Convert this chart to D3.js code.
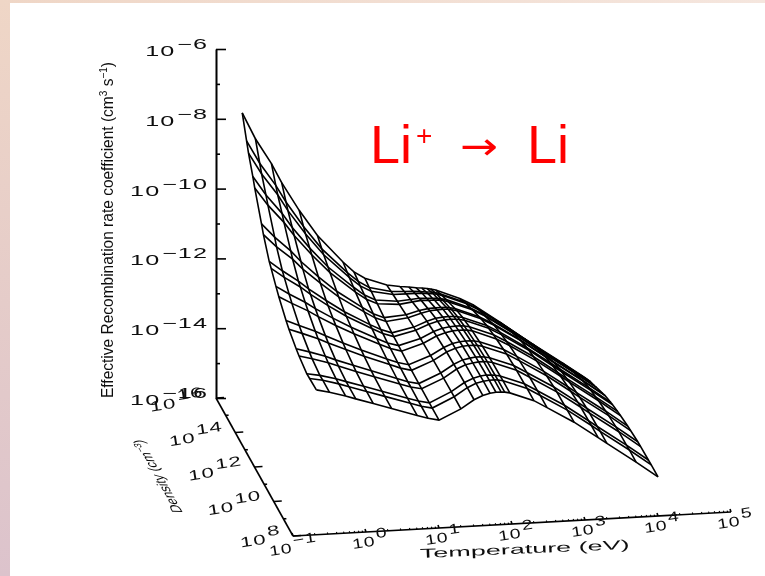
<!DOCTYPE html>
<html>
<head>
<meta charset="utf-8">
<script src="https://cdn.jsdelivr.net/npm/d3@7"></script>
<style>
  html, body { margin: 0; padding: 0; background: #fff; }
  svg { display: block; }
  text { font-family: "Liberation Sans", Arial, sans-serif; fill: #111; }
</style>
</head>
<body>
<svg id="svg" width="765" height="576"></svg>
<script>
// log10 temperature (eV) of each grid column
const logTemps = [-0.68, -0.5, -0.28, -0.14, 0.1, 0.35, 0.7, 0.85, 1, 1.3, 1.48, 1.6, 1.7, 1.78, 1.85, 1.9, 1.97, 2.3, 2.48, 2.85, 3.18, 3.3, 3.7, 4];
// log10 density (cm-3) of each grid row
const logDens = [8, 8.7, 9, 9.8, 10.1, 10.85, 11.15, 11.9, 12.2, 12.7, 12.9, 13.5, 13.7, 14.4, 14.6, 15.05, 15.25, 15.7];
// log10 rate coefficient, one row per density
const logRate = [
    [-11.85,-11.94,-12.07,-12.17,-12.33,-12.50,-12.74,-12.84,-12.91,-12.62,-12.38,-12.27,-12.22,-12.20,-12.20,-12.21,-12.24,-12.50,-12.72,-13.18,-13.66,-13.84,-14.42,-14.88],
    [-11.87,-11.94,-12.07,-12.17,-12.33,-12.50,-12.74,-12.84,-12.91,-12.62,-12.38,-12.27,-12.22,-12.20,-12.20,-12.21,-12.24,-12.50,-12.72,-13.18,-13.66,-13.84,-14.42,-14.88],
    [-11.88,-11.95,-12.07,-12.17,-12.33,-12.50,-12.74,-12.84,-12.91,-12.62,-12.38,-12.27,-12.22,-12.20,-12.21,-12.22,-12.25,-12.51,-12.73,-13.19,-13.67,-13.85,-14.43,-14.89],
    [-11.77,-11.87,-12.01,-12.12,-12.30,-12.48,-12.73,-12.83,-12.90,-12.63,-12.39,-12.28,-12.24,-12.22,-12.22,-12.23,-12.26,-12.52,-12.74,-13.20,-13.68,-13.86,-14.44,-14.90],
    [-11.71,-11.82,-11.97,-12.09,-12.27,-12.46,-12.72,-12.83,-12.90,-12.63,-12.40,-12.29,-12.25,-12.23,-12.23,-12.24,-12.27,-12.53,-12.75,-13.21,-13.69,-13.87,-14.45,-14.91],
    [-11.52,-11.66,-11.84,-11.98,-12.19,-12.41,-12.69,-12.81,-12.89,-12.64,-12.42,-12.33,-12.28,-12.27,-12.27,-12.28,-12.31,-12.57,-12.79,-13.26,-13.74,-13.92,-14.50,-14.96],
    [-11.42,-11.58,-11.77,-11.92,-12.15,-12.38,-12.68,-12.80,-12.88,-12.65,-12.44,-12.34,-12.30,-12.29,-12.29,-12.30,-12.33,-12.59,-12.81,-13.28,-13.76,-13.94,-14.52,-14.98],
    [-11.11,-11.32,-11.56,-11.74,-12.02,-12.29,-12.63,-12.77,-12.86,-12.67,-12.48,-12.40,-12.36,-12.35,-12.35,-12.36,-12.39,-12.66,-12.87,-13.35,-13.83,-14.01,-14.59,-15.05],
    [-10.96,-11.20,-11.46,-11.66,-11.96,-12.25,-12.61,-12.76,-12.85,-12.68,-12.50,-12.42,-12.39,-12.38,-12.38,-12.39,-12.42,-12.69,-12.90,-13.38,-13.87,-14.05,-14.63,-15.08],
    [-10.69,-10.97,-11.27,-11.50,-11.85,-12.18,-12.57,-12.73,-12.84,-12.69,-12.54,-12.47,-12.44,-12.43,-12.44,-12.45,-12.48,-12.75,-12.96,-13.44,-13.93,-14.11,-14.69,-15.14],
    [-10.59,-10.88,-11.20,-11.44,-11.80,-12.15,-12.56,-12.72,-12.83,-12.70,-12.55,-12.48,-12.46,-12.45,-12.46,-12.47,-12.50,-12.77,-12.98,-13.47,-13.95,-14.13,-14.71,-15.17],
    [-10.12,-10.49,-10.87,-11.17,-11.60,-12.02,-12.49,-12.68,-12.80,-12.73,-12.62,-12.56,-12.55,-12.54,-12.55,-12.57,-12.60,-12.87,-13.08,-13.57,-14.06,-14.24,-14.82,-15.27],
    [-9.91,-10.31,-10.73,-11.05,-11.52,-11.96,-12.46,-12.66,-12.79,-12.74,-12.64,-12.60,-12.59,-12.59,-12.59,-12.61,-12.64,-12.91,-13.12,-13.62,-14.11,-14.29,-14.87,-15.32],
    [-9.23,-9.74,-10.26,-10.65,-11.23,-11.77,-12.37,-12.59,-12.74,-12.79,-12.74,-12.71,-12.72,-12.72,-12.73,-12.75,-12.79,-13.06,-13.27,-13.78,-14.27,-14.45,-15.03,-15.48],
    [-9.00,-9.55,-10.10,-10.52,-11.14,-11.71,-12.33,-12.57,-12.73,-12.80,-12.77,-12.75,-12.76,-12.77,-12.78,-12.80,-12.83,-13.11,-13.31,-13.83,-14.32,-14.50,-15.08,-15.53],
    [-8.55,-9.17,-9.79,-10.26,-10.95,-11.58,-12.27,-12.53,-12.70,-12.83,-12.83,-12.83,-12.84,-12.86,-12.87,-12.89,-12.93,-13.20,-13.41,-13.93,-14.43,-14.61,-15.19,-15.63],
    [-8.30,-8.96,-9.62,-10.11,-10.84,-11.51,-12.23,-12.50,-12.69,-12.84,-12.86,-12.87,-12.89,-12.91,-12.92,-12.94,-12.98,-13.26,-13.46,-13.99,-14.49,-14.67,-15.25,-15.69],
    [-7.72,-8.48,-9.22,-9.78,-10.60,-11.35,-12.15,-12.45,-12.65,-12.88,-12.94,-12.97,-13.00,-13.02,-13.04,-13.06,-13.10,-13.38,-13.58,-14.12,-14.62,-14.80,-15.38,-15.82]
];

const rateTicks = [-6, -8, -10, -12, -14, -16];
const rateMinor = [-7, -9, -11, -13, -15];
const densTicks = [8, 10, 12, 14, 16];
const densMinor = [9, 11, 13, 15];
const tempTicks = [-1, 0, 1, 2, 3, 4, 5];
const tempMinorSteps = [2, 3, 4, 5, 6, 7, 8, 9];

const svg = d3.select("#svg");
const originX = 293, originY = 536;

// the three oblique axes, each gives a screen offset
const tempX = d3.scaleLinear().domain([-1, 5]).range([0, 438]);
const tempY = d3.scaleLinear().domain([-1, 5]).range([0, -24]);
const densX = d3.scaleLinear().domain([8, 16]).range([0, -77]);
const densY = d3.scaleLinear().domain([8, 16]).range([0, -138]);
const rateY = d3.scaleLinear().domain([-16, -6]).range([0, -349]);

function project(t, n, r) {
    return [originX + tempX(t) + densX(n), originY + tempY(t) + densY(n) + rateY(r)];
}

// page background, the slide behind the white panel
const defs = svg.append("defs");
const leftGrad = defs.append("linearGradient").attr("id", "leftGrad")
    .attr("x1", 0).attr("y1", 0).attr("x2", 0).attr("y2", 1);
leftGrad.append("stop").attr("offset", 0).attr("stop-color", "#efd6c6");
leftGrad.append("stop").attr("offset", 1).attr("stop-color", "#dcc3cc");
const topGrad = defs.append("linearGradient").attr("id", "topGrad");
topGrad.append("stop").attr("offset", 0).attr("stop-color", "#efd6c6");
topGrad.append("stop").attr("offset", 1).attr("stop-color", "#f5e6de");
defs.append("filter").attr("id", "soft")
    .attr("filterUnits", "userSpaceOnUse")
    .attr("x", 0).attr("y", 0).attr("width", 765).attr("height", 576)
    .append("feGaussianBlur").attr("stdDeviation", 0.45);

svg.append("rect").attr("width", 765).attr("height", 576).attr("fill", "#fff");
svg.append("rect").attr("width", 10).attr("height", 576).attr("fill", "url(#leftGrad)");
svg.append("rect").attr("width", 765).attr("height", 3).attr("fill", "url(#topGrad)");

const plot = svg.append("g").attr("filter", "url(#soft)");

// mesh
const line = d3.line();
const mesh = plot.append("g").attr("fill", "none").attr("stroke", "#000").attr("stroke-width", 1.6);
logDens.forEach((n, i) => {
    mesh.append("path").attr("d", line(logTemps.map((t, j) => project(t, n, logRate[i][j]))));
});
logTemps.forEach((t, j) => {
    mesh.append("path").attr("d", line(logDens.map((n, i) => project(t, n, logRate[i][j]))));
});

// axes
const axisColor = "#000";
plot.append("g")
    .attr("transform", "translate(216," + (originY + densY(16)) + ")")
    .call(d3.axisRight(rateY).tickValues(rateTicks).tickSize(10).tickSizeOuter(0).tickFormat(""));
plot.append("g")
    .attr("transform", "translate(216," + (originY + densY(16)) + ")")
    .call(d3.axisRight(rateY).tickValues(rateMinor).tickSize(4).tickSizeOuter(0).tickFormat(""));
plot.selectAll(".domain, .tick line").attr("stroke", axisColor).attr("stroke-width", 1.6);

const axes = plot.append("g").attr("stroke", axisColor).attr("stroke-width", 1.6);
function seg(a, b, w) {
    axes.append("line").attr("x1", a[0]).attr("y1", a[1]).attr("x2", b[0]).attr("y2", b[1])
        .attr("stroke-width", w || 1.6);
}
const p0 = project(-1, 8, -16);
seg(p0, project(-1, 16, -16));
seg(p0, project(5, 8, -16));
densTicks.forEach(n => {
    const p = project(-1, n, -16);
    seg(p, [p[0] + 8, p[1] - 0.5]);
});
densMinor.forEach(n => {
    const p = project(-1, n, -16);
    seg(p, [p[0] + 3, p[1]]);
});
tempTicks.forEach(t => {
    const p = project(t, 8, -16);
    seg(p, [p[0] - 1, p[1] - 3]);
});
tempTicks.slice(0, -1).forEach(t => {
    tempMinorSteps.forEach(m => {
        const p = project(t + Math.log10(m), 8, -16);
        seg(p, [p[0] - 0.5, p[1] - 1.6], 1.1);
    });
});

// tick labels: wide thin lettering with the exponent raised
function powLabel(x, y, exp, rot, anchor, stretch) {
    const text = plot.append("text")
        .attr("transform", "translate(" + x + "," + y + ")rotate(" + rot + ")scale(" + stretch + ",1)")
        .attr("text-anchor", anchor)
        .attr("font-size", 14)
        .attr("letter-spacing", 0.6);
    text.append("tspan").text("10");
    text.append("tspan").attr("dy", -7).attr("dx", 1).text(exp);
}
rateTicks.forEach(r => {
    powLabel(208, originY + densY(16) + rateY(r) + 7, "\u2212" + Math.abs(r), 0, "end", 1.8);
});
densTicks.forEach(n => {
    const p = project(-1, n, -16);
    powLabel(p[0] - 11, p[1] + 5, String(n), -9, "end", 1.6);
});
tempTicks.forEach(t => {
    const p = project(t, 8, -16);
    powLabel(p[0] + (t < 0 ? -23 : -13), p[1] + (t < 0 ? 20 : 17), t < 0 ? "\u22121" : String(t), -9, "start", 1.4);
});

// axis titles
const rateTitle = plot.append("text")
    .attr("transform", "translate(113,398)rotate(-90)")
    .attr("font-size", 17)
    .attr("textLength", 336)
    .attr("lengthAdjust", "spacingAndGlyphs");
rateTitle.append("tspan").text("Effective Recombination rate coefficient (cm");
rateTitle.append("tspan").attr("dy", -6).attr("font-size", 11).text("3");
rateTitle.append("tspan").attr("dy", 6).text(" s");
rateTitle.append("tspan").attr("dy", -6).attr("font-size", 11).text("\u22121");
rateTitle.append("tspan").attr("dy", 6).text(")");

// runs along the density axis, so the lettering is sheared to it
const densTitle = plot.append("text")
    .attr("transform", "matrix(-0.48,-0.87,1,0.03,183,513)")
    .attr("font-size", 15)
    .attr("textLength", 84)
    .attr("lengthAdjust", "spacingAndGlyphs");
densTitle.append("tspan").text("Density (cm");
densTitle.append("tspan").attr("dy", -5).attr("font-size", 10).text("\u22123");
densTitle.append("tspan").attr("dy", 5).text(")");

plot.append("text")
    .attr("transform", "translate(420,558)rotate(-2.5)")
    .attr("font-size", 13)
    .attr("textLength", 210)
    .attr("lengthAdjust", "spacingAndGlyphs")
    .text("Temperature  (eV)");

// reaction label
const title = svg.append("g");
title.append("text").attr("x", 370).attr("y", 163).attr("font-size", 54).style("fill", "#f00").text("Li");
title.append("text").attr("x", 416).attr("y", 145).attr("font-size", 28).style("fill", "#f00").text("+");
title.append("text").attr("x", 460).attr("y", 159).attr("font-size", 38).style("fill", "#f00")
    .style("font-family", "DejaVu Sans").attr("textLength", 38).attr("lengthAdjust", "spacingAndGlyphs").text("\u2192");
title.append("text").attr("x", 527).attr("y", 163).attr("font-size", 54).style("fill", "#f00").text("Li");
</script>
</body>
</html>
